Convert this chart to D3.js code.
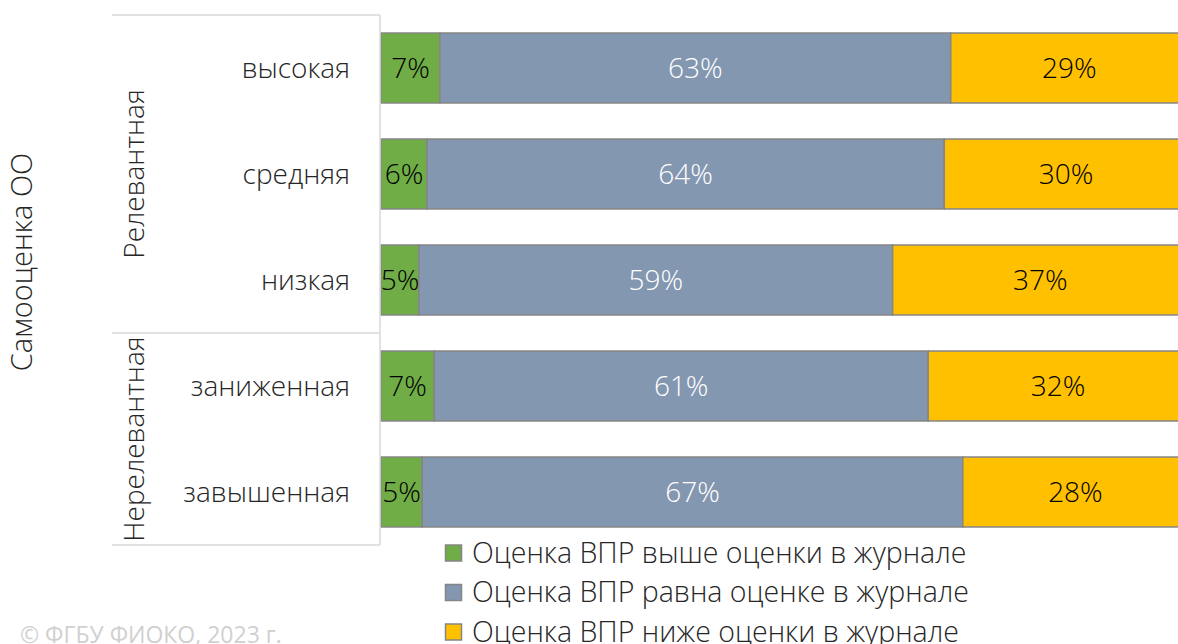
<!DOCTYPE html>
<html>
<head>
<meta charset="utf-8">
<script src="https://cdn.jsdelivr.net/npm/d3@7"></script>
<style>
  body { margin: 0; background: #fff; }
  svg { display: block; font-family: "Open Sans", sans-serif; }
</style>
</head>
<body>
<div id="chart"></div>
<script>
// categories, top to bottom
const categories = ["высокая", "средняя", "низкая", "заниженная", "завышенная"];
const groups = [
  { name: "Релевантная", from: 0, to: 3 },
  { name: "Нерелевантная", from: 3, to: 5 }
];
const seriesNames = [
  "Оценка ВПР выше оценки в журнале",
  "Оценка ВПР равна оценке в журнале",
  "Оценка ВПР ниже оценки в журнале"
];
const higher = [7.3, 5.7, 4.7, 6.6, 5.1];
const equal = [63.3, 64.1, 58.7, 61.2, 67.0];
const lower = [29.4, 30.2, 36.6, 32.2, 27.9];
const axisTitle = "Самооценка ОО";
const footer = "© ФГБУ ФИОКО, 2023 г.";

const width = 1178, height = 644;
const margin = { left: 381, top: 15, right: -10, bottom: 99 };
const colors = ["#70ad47", "#8497b0", "#ffc000"];
const labelColors = ["#000", "#fff", "#000"];
const fontSize = "28px";

const svg = d3.select("#chart").append("svg")
  .attr("width", width)
  .attr("height", height);

//#region scales
const x = d3.scaleLinear().domain([0, 100]).range([margin.left, width - margin.right]);
const y = d3.scaleBand()
  .domain(categories)
  .range([margin.top, height - margin.bottom])
  .paddingInner(0.34)
  .paddingOuter(0.17);
const step = y.step();
//#endregion

//#region stacked bars
const rows = categories.map((c, i) => ({ cat: c, s0: higher[i], s1: equal[i], s2: lower[i] }));
const stacked = d3.stack().keys(["s0", "s1", "s2"])(rows);

const layer = svg.selectAll("g.layer")
  .data(stacked)
  .join("g")
  .attr("class", "layer");

layer.selectAll("rect")
  .data((d, i) => d.map(p => ({ p, i })))
  .join("rect")
  .attr("x", d => x(d.p[0]))
  .attr("y", d => y(d.p.data.cat))
  .attr("width", d => x(d.p[1]) - x(d.p[0]))
  .attr("height", y.bandwidth())
  .attr("fill", d => colors[d.i])
  .attr("stroke", "#858585")
  .attr("stroke-width", 1.5);

layer.selectAll("text")
  .data((d, i) => d.map(p => ({ p, i })))
  .join("text")
  .attr("x", d => (x(d.p[0]) + x(d.p[1])) / 2)
  .attr("y", d => y(d.p.data.cat) + y.bandwidth() / 2)
  .attr("text-anchor", "middle")
  .attr("dy", "0.35em")
  .attr("fill", d => labelColors[d.i])
  .style("font-size", fontSize)
  .style("font-weight", 300)
  .text(d => Math.round(d.p[1] - d.p[0]) + "%");
//#endregion

//#region category axis (multi-level)
const axisX = margin.left - 1;
const axisLeft = 112;
const lineColor = "#d9d9d9";
const plotTop = margin.top, plotBottom = height - margin.bottom;

svg.append("line")
  .attr("x1", axisX).attr("x2", axisX)
  .attr("y1", plotTop).attr("y2", plotBottom)
  .attr("stroke", lineColor).attr("stroke-width", 1.5);

const groupEdges = [plotTop, plotTop + step * groups[0].to, plotBottom];
svg.selectAll("line.sep")
  .data(groupEdges)
  .join("line")
  .attr("class", "sep")
  .attr("x1", axisLeft).attr("x2", axisX)
  .attr("y1", d => d).attr("y2", d => d)
  .attr("stroke", lineColor).attr("stroke-width", 1.5);

svg.selectAll("text.cat")
  .data(categories)
  .join("text")
  .attr("class", "cat")
  .attr("x", 350)
  .attr("y", d => y(d) + y.bandwidth() / 2)
  .attr("dy", "0.35em")
  .attr("text-anchor", "end")
  .attr("fill", "#262626")
  .style("font-size", fontSize)
  .style("font-weight", 300)
  .text(d => d);

svg.selectAll("text.group")
  .data(groups)
  .join("text")
  .attr("class", "group")
  .attr("transform", d => `translate(134, ${plotTop + step * (d.from + d.to) / 2}) rotate(-90)`)
  .attr("dy", "0.35em")
  .attr("text-anchor", "middle")
  .attr("fill", "#262626")
  .style("font-size", fontSize)
  .style("font-weight", 300)
  .text(d => d.name);

svg.append("text")
  .attr("transform", `translate(22, ${(plotTop + plotBottom) / 2 - 18}) rotate(-90)`)
  .attr("dy", "0.35em")
  .attr("text-anchor", "middle")
  .attr("fill", "#262626")
  .style("font-size", "29px")
  .style("font-weight", 300)
  .text(axisTitle);
//#endregion

//#region legend
const legend = svg.append("g").attr("transform", "translate(445, 553)");
const item = legend.selectAll("g")
  .data(seriesNames)
  .join("g")
  .attr("transform", (d, i) => `translate(0, ${i * 39.5})`);
item.append("rect")
  .attr("x", 0.5).attr("y", -8)
  .attr("width", 16).attr("height", 16)
  .attr("fill", (d, i) => colors[i])
  .attr("stroke", "#858585")
  .attr("stroke-width", 1.5);
item.append("text")
  .attr("x", 27)
  .attr("dy", "0.35em")
  .attr("fill", "#262626")
  .style("font-size", "28.5px")
  .style("font-weight", 300)
  .text(d => d);
//#endregion

svg.append("text")
  .attr("x", 20)
  .attr("y", 643)
  .attr("fill", "#d0d0d0")
  .style("font-size", "23px")
  .text(footer);
</script>
</body>
</html>
